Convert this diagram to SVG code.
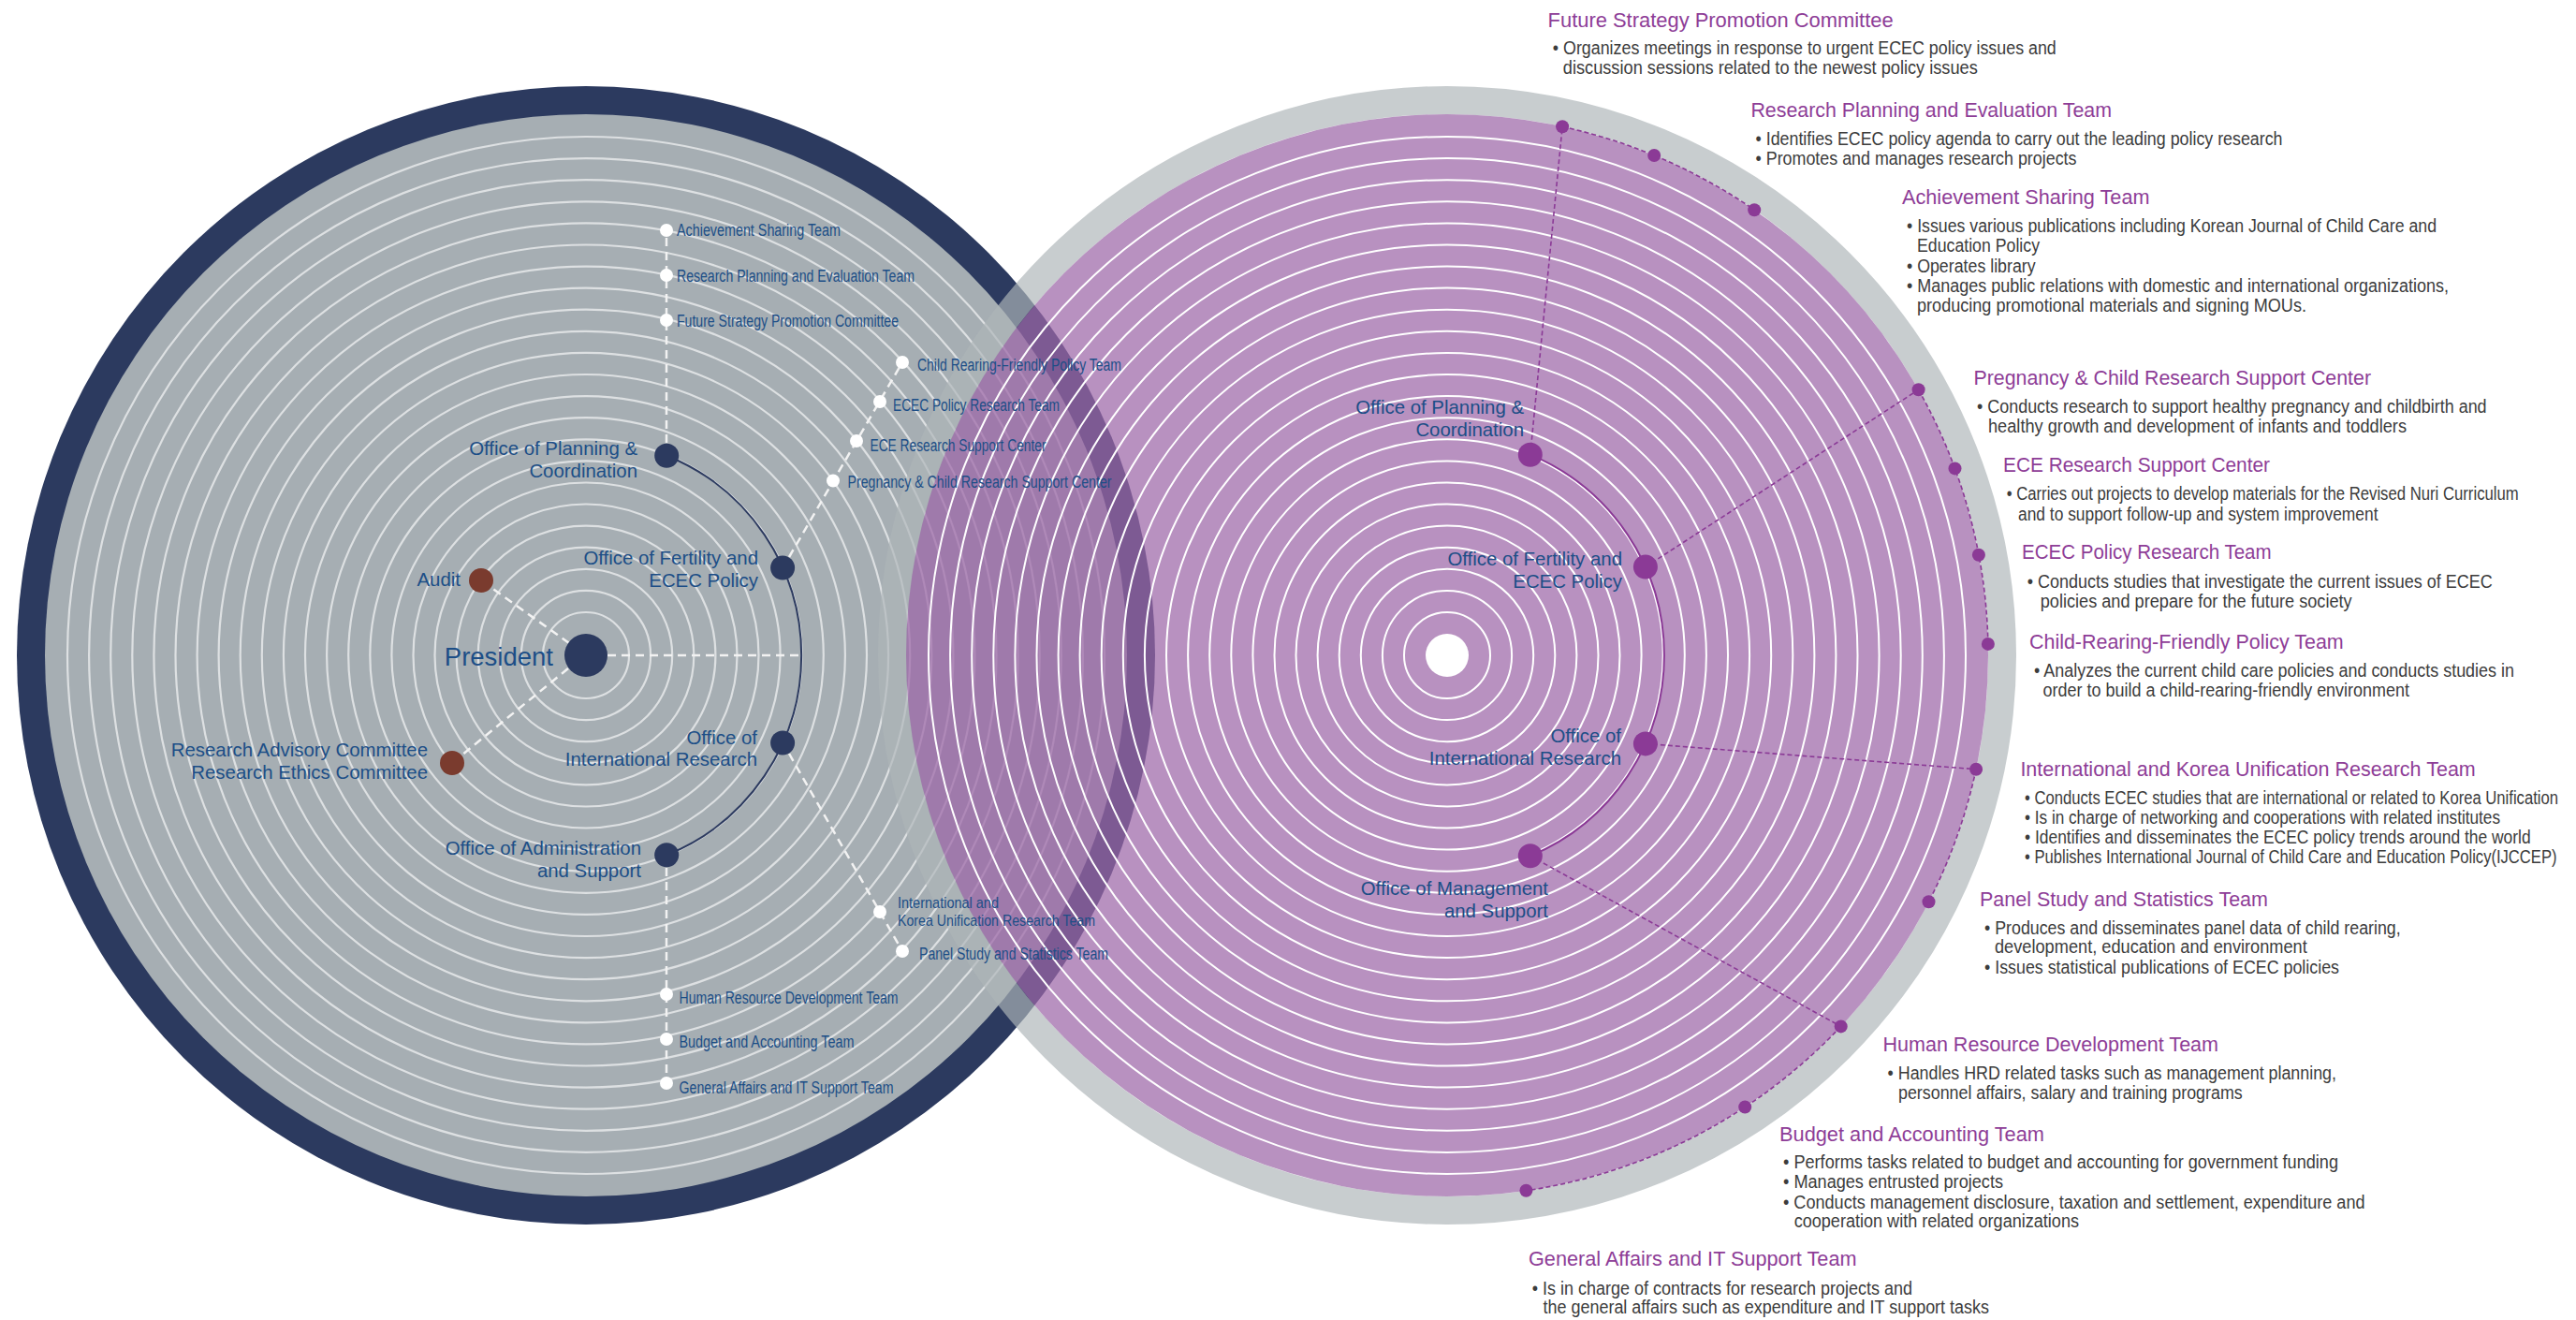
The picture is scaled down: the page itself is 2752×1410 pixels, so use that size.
<svg xmlns="http://www.w3.org/2000/svg" xmlns:xlink="http://www.w3.org/1999/xlink" width="2752" height="1410" viewBox="0 0 2752 1410">
<style>
.lab{font-family:"Liberation Sans",Arial,sans-serif;fill:#1c4e87;font-size:20.4px}
.pres{font-family:"Liberation Sans",Arial,sans-serif;fill:#1c4e87;font-size:27.5px}
.team{font-family:"Liberation Sans Narrow","Liberation Sans",Arial,sans-serif;fill:#1c4e87;font-size:18px}
.ttl{font-family:"Liberation Sans Narrow","Liberation Sans",Arial,sans-serif;fill:#8e3d97;font-size:22px}
.desc{font-family:"Liberation Sans Narrow","Liberation Sans",Arial,sans-serif;fill:#3c3c3c;font-size:19.5px}
.wdash{fill:none;stroke:#f2f2f2;stroke-width:2.5;stroke-dasharray:9 6}
.pdash{fill:none;stroke:#8b3a96;stroke-width:1.6;stroke-dasharray:5 3}
.wdot{fill:#ffffff}
.ndot{fill:#2c3a5f}
.bdot{fill:#7a3b2e}
.pdot{fill:#8b3a96}
</style>
<defs>
<g id="rings" fill="none">
<circle r="46"/><circle r="69.1"/><circle r="92.2"/><circle r="115.3"/><circle r="138.4"/><circle r="161.5"/><circle r="184.5"/><circle r="207.6"/><circle r="230.7"/><circle r="253.8"/><circle r="276.9"/><circle r="300"/><circle r="323.1"/><circle r="346.2"/><circle r="369.3"/><circle r="392.4"/><circle r="415.4"/><circle r="438.5"/><circle r="461.6"/><circle r="484.7"/><circle r="507.8"/><circle r="530.9"/><circle r="554"/>
</g>
</defs>

<g id="left-circle">
<circle cx="626" cy="700" r="608" fill="#2c3a5f"/>
<circle cx="626" cy="700" r="578" fill="#a6aeb3"/>
<use xlink:href="#rings" href="#rings" transform="translate(626,700)" stroke="#dde0e2" stroke-width="2.2"/>
</g>

<g id="right-circle">
<circle cx="1546" cy="700" r="593" fill="none" stroke="#adb5b8" stroke-opacity="0.675" stroke-width="30"/>
<circle cx="1546" cy="700" r="578" fill="#9c66a8" fill-opacity="0.72"/>
<use xlink:href="#rings" href="#rings" transform="translate(1546,700)" stroke="#ffffff" stroke-width="2"/>
<circle cx="1546" cy="700" r="23" fill="#ffffff"/>
</g>

<g id="connectors">
<path d="M712.2 486.7 A230 230 0 0 1 712.2 913.3" fill="none" stroke="#2c3a5f" stroke-width="2"/>
<line class="wdash" x1="649" y1="700" x2="856" y2="700"/>
<line class="wdash" x1="608" y1="687" x2="514" y2="620"/>
<line class="wdash" x1="607" y1="714" x2="483" y2="815"/>
<line class="wdash" x1="712" y1="473" x2="712" y2="246"/>
<line class="wdash" x1="843" y1="595" x2="964" y2="387"/>
<line class="wdash" x1="843" y1="805" x2="964" y2="1016"/>
<line class="wdash" x1="712" y1="927" x2="712" y2="1157"/>
<path d="M1634.8 485.7 A232 232 0 0 1 1634.8 914.3" fill="none" stroke="#8b3a96" stroke-width="2"/>
<line class="pdash" x1="1634.8" y1="485.7" x2="1669.1" y2="135.3"/>
<line class="pdash" x1="1757.9" y1="605.6" x2="2049.6" y2="416.3"/>
<line class="pdash" x1="1757.9" y1="794.4" x2="2111.1" y2="821.7"/>
<line class="pdash" x1="1634.8" y1="914.3" x2="1966.7" y2="1096.4"/>
<path class="pdash" d="M1669.1 135.3 A578 578 0 0 1 1874.2 224.2"/>
<path class="pdash" d="M2049.6 416.3 A578 578 0 0 1 2123.9 687.9"/>
<path class="pdash" d="M2111.1 821.7 A578 578 0 0 1 2060.5 963.3"/>
<path class="pdash" d="M1966.7 1096.4 A578 578 0 0 1 1630.4 1271.8"/>
</g>

<g id="president"><circle class="ndot" cx="626" cy="700" r="23"/><text class="pres" x="591" y="711" text-anchor="end">President</text></g>
<g id="audit"><circle class="bdot" cx="514" cy="620" r="13"/><text class="lab" x="492" y="626" text-anchor="end">Audit</text></g>
<g id="committees"><circle class="bdot" cx="483" cy="815" r="13"/><text class="lab" x="457" y="808" text-anchor="end">Research Advisory Committee</text><text class="lab" x="457" y="832" text-anchor="end">Research Ethics Committee</text></g>
<g id="l-planning"><circle class="ndot" cx="712.2" cy="486.7" r="13"/><text class="lab" x="681" y="486" text-anchor="end">Office of Planning &amp;</text><text class="lab" x="681" y="510" text-anchor="end">Coordination</text></g>
<g id="l-fertility"><circle class="ndot" cx="836.1" cy="606.5" r="13"/><text class="lab" x="810" y="603" text-anchor="end">Office of Fertility and</text><text class="lab" x="810" y="627" text-anchor="end">ECEC Policy</text></g>
<g id="l-international"><circle class="ndot" cx="836.1" cy="793.5" r="13"/><text class="lab" x="809" y="795" text-anchor="end">Office of</text><text class="lab" x="809" y="818" text-anchor="end">International Research</text></g>
<g id="l-admin"><circle class="ndot" cx="712.2" cy="913.3" r="13"/><text class="lab" x="685" y="913" text-anchor="end">Office of Administration</text><text class="lab" x="685" y="937" text-anchor="end">and Support</text></g>

<g id="l-teams">
<g id="l-as"><circle class="wdot" cx="712" cy="246" r="7"/><text class="team" x="723" y="252" textLength="175" lengthAdjust="spacingAndGlyphs">Achievement Sharing Team</text></g>
<g id="l-rp"><circle class="wdot" cx="712" cy="294" r="7"/><text class="team" x="723" y="300.5" textLength="254" lengthAdjust="spacingAndGlyphs">Research Planning and Evaluation Team</text></g>
<g id="l-fs"><circle class="wdot" cx="712" cy="342" r="7"/><text class="team" x="723" y="348.5" textLength="237" lengthAdjust="spacingAndGlyphs">Future Strategy Promotion Committee</text></g>
<g id="l-cr"><circle class="wdot" cx="964" cy="387" r="7"/><text class="team" x="980" y="395.5" textLength="218" lengthAdjust="spacingAndGlyphs">Child Rearing-Friendly Policy Team</text></g>
<g id="l-ecec"><circle class="wdot" cx="940" cy="429" r="7"/><text class="team" x="954" y="439" textLength="178" lengthAdjust="spacingAndGlyphs">ECEC Policy Research Team</text></g>
<g id="l-ece"><circle class="wdot" cx="915" cy="471" r="7"/><text class="team" x="929.5" y="482" textLength="188" lengthAdjust="spacingAndGlyphs">ECE Research Support Center</text></g>
<g id="l-preg"><circle class="wdot" cx="890" cy="513.5" r="7"/><text class="team" x="905.5" y="521" textLength="282" lengthAdjust="spacingAndGlyphs">Pregnancy &amp; Child Research Support Center</text></g>
<g id="l-intl"><circle class="wdot" cx="940" cy="974" r="7"/><text class="team" x="959" y="969.5" style="font-size:17px" textLength="108" lengthAdjust="spacingAndGlyphs">International and</text><text class="team" x="959" y="988.5" style="font-size:17px" textLength="211" lengthAdjust="spacingAndGlyphs">Korea Unification Research Team</text></g>
<g id="l-panel"><circle class="wdot" cx="964" cy="1016" r="7"/><text class="team" x="982" y="1024.5" textLength="202" lengthAdjust="spacingAndGlyphs">Panel Study and Statistics Team</text></g>
<g id="l-hrd"><circle class="wdot" cx="712" cy="1062" r="7"/><text class="team" x="725.5" y="1071.5" textLength="234" lengthAdjust="spacingAndGlyphs">Human Resource Development Team</text></g>
<g id="l-budget"><circle class="wdot" cx="712" cy="1110" r="7"/><text class="team" x="725.5" y="1118.5" textLength="187" lengthAdjust="spacingAndGlyphs">Budget and Accounting Team</text></g>
<g id="l-ga"><circle class="wdot" cx="712" cy="1157" r="7"/><text class="team" x="725.5" y="1167.5" textLength="229" lengthAdjust="spacingAndGlyphs">General Affairs and IT Support Team</text></g>
</g>

<g id="r-planning"><circle class="pdot" cx="1634.8" cy="485.7" r="13"/><text class="lab" x="1628" y="441.5" text-anchor="end">Office of Planning &amp;</text><text class="lab" x="1628" y="465.5" text-anchor="end">Coordination</text></g>
<g id="r-fertility"><circle class="pdot" cx="1757.9" cy="605.6" r="13"/><text class="lab" x="1733" y="604" text-anchor="end">Office of Fertility and</text><text class="lab" x="1733" y="628" text-anchor="end">ECEC Policy</text></g>
<g id="r-international"><circle class="pdot" cx="1757.9" cy="794.4" r="13"/><text class="lab" x="1732" y="793" text-anchor="end">Office of</text><text class="lab" x="1732" y="816.5" text-anchor="end">International Research</text></g>
<g id="r-management"><circle class="pdot" cx="1634.8" cy="914.3" r="13"/><text class="lab" x="1654" y="956" text-anchor="end">Office of Management</text><text class="lab" x="1654" y="980" text-anchor="end">and Support</text></g>

<g id="r-fs"><circle class="pdot" cx="1669.1" cy="135.3" r="7"/>
<text class="ttl" x="1653.6" y="28.5" textLength="369" lengthAdjust="spacingAndGlyphs">Future Strategy Promotion Committee</text>
<text class="desc" x="1658.8" y="57.5" textLength="538" lengthAdjust="spacingAndGlyphs">• Organizes meetings in response to urgent ECEC policy issues and</text>
<text class="desc" x="1669.8" y="78.5" textLength="443" lengthAdjust="spacingAndGlyphs">discussion sessions related to the newest policy issues</text></g>

<g id="r-rp"><circle class="pdot" cx="1767.2" cy="166" r="7"/>
<text class="ttl" x="1870.4" y="125" textLength="385.6" lengthAdjust="spacingAndGlyphs">Research Planning and Evaluation Team</text>
<text class="desc" x="1875.5" y="155" textLength="563" lengthAdjust="spacingAndGlyphs">• Identifies ECEC policy agenda to carry out the leading policy research</text>
<text class="desc" x="1875.5" y="176.3" textLength="343" lengthAdjust="spacingAndGlyphs">• Promotes and manages research projects</text></g>

<g id="r-as"><circle class="pdot" cx="1874.2" cy="224.2" r="7"/>
<text class="ttl" x="2032" y="218" textLength="264.5" lengthAdjust="spacingAndGlyphs">Achievement Sharing Team</text>
<text class="desc" x="2037" y="248" textLength="566" lengthAdjust="spacingAndGlyphs">• Issues various publications including Korean Journal of Child Care and</text>
<text class="desc" x="2048" y="269" textLength="131" lengthAdjust="spacingAndGlyphs">Education Policy</text>
<text class="desc" x="2037" y="290.6" textLength="137.6" lengthAdjust="spacingAndGlyphs">• Operates library</text>
<text class="desc" x="2037" y="312" textLength="579" lengthAdjust="spacingAndGlyphs">• Manages public relations with domestic and international organizations,</text>
<text class="desc" x="2048" y="333" textLength="416" lengthAdjust="spacingAndGlyphs">producing promotional materials and signing MOUs.</text></g>

<g id="r-preg"><circle class="pdot" cx="2049.6" cy="416.3" r="7"/>
<text class="ttl" x="2108.5" y="411" textLength="424.5" lengthAdjust="spacingAndGlyphs">Pregnancy &amp; Child Research Support Center</text>
<text class="desc" x="2112" y="441" textLength="544.6" lengthAdjust="spacingAndGlyphs">• Conducts research to support healthy pregnancy and childbirth and</text>
<text class="desc" x="2124" y="462" textLength="447" lengthAdjust="spacingAndGlyphs">healthy growth and development of infants and toddlers</text></g>

<g id="r-ece"><circle class="pdot" cx="2088.5" cy="500.4" r="7"/>
<text class="ttl" x="2140" y="504" textLength="285" lengthAdjust="spacingAndGlyphs">ECE Research Support Center</text>
<text class="desc" x="2143.7" y="534" textLength="547" lengthAdjust="spacingAndGlyphs">• Carries out projects to develop materials for the Revised Nuri Curriculum</text>
<text class="desc" x="2156" y="555.6" textLength="384.5" lengthAdjust="spacingAndGlyphs">and to support follow-up and system improvement</text></g>

<g id="r-ecec"><circle class="pdot" cx="2113.9" cy="592.7" r="7"/>
<text class="ttl" x="2160" y="597" textLength="266.6" lengthAdjust="spacingAndGlyphs">ECEC Policy Research Team</text>
<text class="desc" x="2165.8" y="627.6" textLength="497" lengthAdjust="spacingAndGlyphs">• Conducts studies that investigate the current issues of ECEC</text>
<text class="desc" x="2179.7" y="648.8" textLength="333" lengthAdjust="spacingAndGlyphs">policies and prepare for the future society</text></g>

<g id="r-cr"><circle class="pdot" cx="2123.9" cy="687.9" r="7"/>
<text class="ttl" x="2168" y="693" textLength="335.7" lengthAdjust="spacingAndGlyphs">Child-Rearing-Friendly Policy Team</text>
<text class="desc" x="2173" y="722.6" textLength="513" lengthAdjust="spacingAndGlyphs">• Analyzes the current child care policies and conducts studies in</text>
<text class="desc" x="2182.6" y="743.5" textLength="391.4" lengthAdjust="spacingAndGlyphs">order to build a child-rearing-friendly environment</text></g>

<g id="r-intl"><circle class="pdot" cx="2111.1" cy="821.7" r="7"/>
<text class="ttl" x="2158.4" y="829" textLength="486.4" lengthAdjust="spacingAndGlyphs">International and Korea Unification Research Team</text>
<text class="desc" x="2163" y="858.5" textLength="570" lengthAdjust="spacingAndGlyphs">• Conducts ECEC studies that are international or related to Korea Unification</text>
<text class="desc" x="2163" y="879.8" textLength="508" lengthAdjust="spacingAndGlyphs">• Is in charge of networking and cooperations with related institutes</text>
<text class="desc" x="2163" y="901" textLength="540.6" lengthAdjust="spacingAndGlyphs">• Identifies and disseminates the ECEC policy trends around the world</text>
<text class="desc" x="2163" y="922" textLength="568.5" lengthAdjust="spacingAndGlyphs">• Publishes International Journal of Child Care and Education Policy(IJCCEP)</text></g>

<g id="r-panel"><circle class="pdot" cx="2060.5" cy="963.3" r="7"/>
<text class="ttl" x="2115" y="968" textLength="308" lengthAdjust="spacingAndGlyphs">Panel Study and Statistics Team</text>
<text class="desc" x="2120" y="997.6" textLength="444.7" lengthAdjust="spacingAndGlyphs">• Produces and disseminates panel data of child rearing,</text>
<text class="desc" x="2131" y="1018.4" textLength="333.8" lengthAdjust="spacingAndGlyphs">development, education and environment</text>
<text class="desc" x="2120" y="1039.7" textLength="379" lengthAdjust="spacingAndGlyphs">• Issues statistical publications of ECEC policies</text></g>

<g id="r-hrd"><circle class="pdot" cx="1966.7" cy="1096.4" r="7"/>
<text class="ttl" x="2011.5" y="1122.5" textLength="358.5" lengthAdjust="spacingAndGlyphs">Human Resource Development Team</text>
<text class="desc" x="2016.6" y="1153" textLength="479.4" lengthAdjust="spacingAndGlyphs">• Handles HRD related tasks such as management planning,</text>
<text class="desc" x="2028" y="1173.7" textLength="367.7" lengthAdjust="spacingAndGlyphs">personnel affairs, salary and training programs</text></g>

<g id="r-budget"><circle class="pdot" cx="1864.2" cy="1182.5" r="7"/>
<text class="ttl" x="1901" y="1218.6" textLength="283" lengthAdjust="spacingAndGlyphs">Budget and Accounting Team</text>
<text class="desc" x="1905" y="1248" textLength="593" lengthAdjust="spacingAndGlyphs">• Performs tasks related to budget and accounting for government funding</text>
<text class="desc" x="1905" y="1269.3" textLength="235" lengthAdjust="spacingAndGlyphs">• Manages entrusted projects</text>
<text class="desc" x="1905" y="1291" textLength="621.5" lengthAdjust="spacingAndGlyphs">• Conducts management disclosure, taxation and settlement, expenditure and</text>
<text class="desc" x="1916.7" y="1311.4" textLength="304.3" lengthAdjust="spacingAndGlyphs">cooperation with related organizations</text></g>

<g id="r-ga"><circle class="pdot" cx="1630.4" cy="1271.8" r="7"/>
<text class="ttl" x="1633" y="1352" textLength="350.5" lengthAdjust="spacingAndGlyphs">General Affairs and IT Support Team</text>
<text class="desc" x="1636.7" y="1382.5" textLength="406.3" lengthAdjust="spacingAndGlyphs">• Is in charge of contracts for research projects and</text>
<text class="desc" x="1648.5" y="1403" textLength="476.5" lengthAdjust="spacingAndGlyphs">the general affairs such as expenditure and IT support tasks</text></g>
</svg>
